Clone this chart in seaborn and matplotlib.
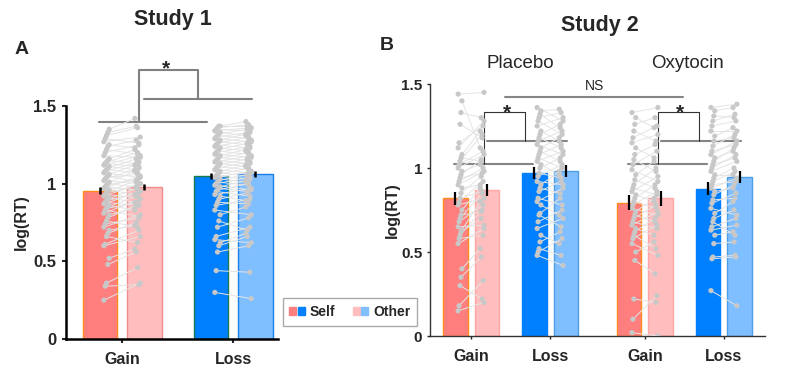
import numpy as np
import pandas as pd
import matplotlib.pyplot as plt
import seaborn as sns
from matplotlib.patches import Patch
from matplotlib.legend_handler import HandlerTuple

sns.set_style("ticks")
plt.rcParams['font.family'] = ['Liberation Sans', 'DejaVu Sans']

targets = ["Self", "Other"]
conds = ["Gain", "Loss"]

# bar means / sem, order: gain self, gain other, loss self, loss other
s1_mean = [0.955, 0.980, 1.050, 1.060]
s1_sem = [0.022, 0.020, 0.020, 0.020]
s2_groups = ["Placebo", "Oxytocin"]
s2_mean = [0.820, 0.867, 0.972, 0.984, 0.793, 0.820, 0.877, 0.948]
s2_sem = [0.040, 0.036, 0.036, 0.036, 0.045, 0.046, 0.040, 0.036]

# study 1 individual subjects
s1_gain_self = [0.25, 0.34, 0.36, 0.48, 0.52, 0.60, 0.61, 0.66, 0.68, 0.70,
                0.72, 0.74, 0.76, 0.78, 0.80, 0.81, 0.83, 0.84, 0.85, 0.86,
                0.87, 0.88, 0.89, 0.90, 0.91, 0.92, 0.93, 0.94, 0.95, 0.96,
                0.97, 0.98, 0.99, 1.00, 1.01, 1.02, 1.03, 1.04, 1.05, 1.06,
                1.07, 1.08, 1.09, 1.10, 1.11, 1.12, 1.13, 1.14, 1.15, 1.16,
                1.18, 1.20, 1.22, 1.24, 1.25, 1.27, 1.29, 1.31, 1.33, 1.35]
s1_gain_other = [0.36, 0.35, 0.46, 0.56, 0.58, 0.66, 0.70, 0.62, 0.75, 0.73,
                 0.80, 0.78, 0.72, 0.86, 0.84, 0.90, 0.79, 0.88, 0.92, 0.83,
                 0.95, 0.86, 0.94, 0.97, 0.88, 1.00, 0.91, 0.99, 1.02, 0.93,
                 1.05, 0.96, 1.03, 0.98, 1.08, 1.00, 1.10, 1.06, 1.01, 1.12,
                 1.04, 1.14, 1.07, 1.16, 1.09, 1.18, 1.11, 1.20, 1.13, 1.22,
                 1.17, 1.25, 1.19, 1.28, 1.23, 1.30, 1.26, 1.36, 1.37, 1.42]
s1_loss_self = [0.30, 0.44, 0.56, 0.60, 0.62, 0.64, 0.66, 0.72, 0.76, 0.80,
                0.83, 0.86, 0.88, 0.90, 0.92, 0.93, 0.95, 0.96, 0.97, 0.98,
                0.99, 1.00, 1.01, 1.02, 1.03, 1.04, 1.05, 1.06, 1.07, 1.08,
                1.09, 1.10, 1.11, 1.12, 1.13, 1.14, 1.15, 1.16, 1.17, 1.18,
                1.19, 1.20, 1.21, 1.22, 1.23, 1.24, 1.25, 1.26, 1.27, 1.28,
                1.29, 1.30, 1.31, 1.32, 1.33, 1.34, 1.35, 1.36, 1.37, 1.37]
s1_loss_other = [0.26, 0.43, 0.60, 0.66, 0.68, 0.62, 0.72, 0.78, 0.70, 0.85,
                 0.80, 0.90, 0.87, 0.94, 0.89, 0.97, 0.92, 1.00, 0.95, 1.02,
                 0.96, 1.04, 0.99, 1.06, 1.01, 1.08, 1.03, 1.10, 1.05, 1.12,
                 1.07, 1.14, 1.09, 1.16, 1.11, 1.18, 1.13, 1.20, 1.15, 1.22,
                 1.17, 1.24, 1.19, 1.26, 1.21, 1.28, 1.23, 1.30, 1.25, 1.32,
                 1.27, 1.33, 1.29, 1.35, 1.31, 1.36, 1.34, 1.38, 1.37, 1.40]

# study 2 individual subjects
pl_gain_self = [0.15, 0.18, 0.30, 0.35, 0.40, 0.55, 0.58, 0.60, 0.62, 0.63, 0.65, 0.68,
                0.70, 0.72, 0.75, 0.78, 0.80, 0.82, 0.85, 0.88, 0.90, 0.92, 0.94, 0.96,
                0.98, 1.00, 1.02, 1.04, 1.06, 1.08, 1.12, 1.15, 1.26, 1.33, 1.40, 1.44]
pl_gain_other = [0.20, 0.33, 0.22, 0.47, 0.52, 0.64, 0.60, 0.75, 0.70, 0.80, 0.66, 0.78,
                 0.85, 0.74, 0.88, 0.82, 0.92, 0.86, 0.95, 0.90, 0.98, 1.00, 0.97, 1.05,
                 1.02, 1.08, 1.10, 1.20, 1.04, 1.22, 1.28, 1.25, 1.18, 1.30, 1.12, 1.45]
pl_loss_self = [0.48, 0.50, 0.52, 0.56, 0.60, 0.64, 0.68, 0.72, 0.73, 0.78, 0.80, 0.82,
                0.86, 0.88, 0.90, 0.92, 0.95, 0.97, 1.00, 1.02, 1.04, 1.06, 1.08, 1.10,
                1.12, 1.14, 1.16, 1.18, 1.20, 1.22, 1.25, 1.28, 1.30, 1.32, 1.34, 1.36]
pl_loss_other = [0.42, 0.58, 0.48, 0.62, 0.55, 0.70, 0.75, 0.65, 0.82, 0.72, 0.88, 0.78,
                 0.92, 0.85, 0.98, 0.90, 1.02, 0.94, 1.06, 0.96, 1.10, 1.00, 1.14, 1.04,
                 1.18, 1.08, 1.22, 1.12, 1.26, 1.16, 1.30, 1.20, 1.33, 1.24, 1.35, 1.28]
ox_gain_self = [0.02, 0.10, 0.22, 0.45, 0.50, 0.55, 0.58, 0.60, 0.62, 0.64, 0.66, 0.68,
                0.70, 0.72, 0.74, 0.76, 0.78, 0.80, 0.82, 0.84, 0.86, 0.88, 0.90, 0.93,
                0.96, 0.99, 1.02, 1.05, 1.08, 1.12, 1.15, 1.18, 1.22, 1.26, 1.30, 1.33]
ox_gain_other = [0.00, 0.24, 0.20, 0.37, 0.56, 0.48, 0.66, 0.52, 0.70, 0.60, 0.74, 0.64,
                 0.78, 0.68, 0.82, 0.72, 0.86, 0.76, 0.90, 0.80, 0.95, 0.84, 1.00, 0.88,
                 1.04, 0.92, 1.10, 0.98, 1.14, 1.06, 1.20, 1.25, 1.16, 1.30, 1.24, 1.36]
ox_loss_self = [0.27, 0.46, 0.47, 0.55, 0.60, 0.63, 0.65, 0.68, 0.70, 0.73, 0.76, 0.79,
                0.81, 0.84, 0.86, 0.88, 0.90, 0.92, 0.94, 0.96, 0.98, 1.00, 1.02, 1.04,
                1.06, 1.08, 1.10, 1.13, 1.16, 1.19, 1.22, 1.25, 1.28, 1.31, 1.34, 1.36]
ox_loss_other = [0.18, 0.47, 0.48, 0.56, 0.62, 0.66, 0.70, 0.60, 0.75, 0.80, 0.72, 0.85,
                 0.82, 0.90, 0.88, 0.94, 0.92, 0.98, 1.00, 0.96, 1.04, 1.08, 1.06, 1.12,
                 1.10, 1.16, 1.14, 1.20, 1.18, 1.24, 1.22, 1.28, 1.32, 1.30, 1.36, 1.38]

faces = ["#ff7f7f", "#ffbdbd", "#0080ff", "#80bfff"]
edges1 = ["#ff8c1a", "#f08c8c", "#1a7a4a", "#1a80e6"]
edges2 = ["#ff8c1a", "#ffa6a6", "#0080ff", "#4d9ee6"]


def draw_bars(ax, xpos, means, sems, edges, lw):
    df = pd.DataFrame({"x": np.repeat(xpos, 2), "target": targets * len(xpos), "rt": means})
    sns.barplot(data=df, x="x", y="rt", hue="target", hue_order=targets, native_scale=True,
                width=0.8, gap=0.22, errorbar=None, legend=False, ax=ax)
    bars = sorted(ax.patches, key=lambda p: p.get_x())
    for i, p in enumerate(bars):
        p.set_facecolor(faces[i % 4])
        p.set_edgecolor(edges[i % 4])
        p.set_linewidth(lw)
    cx = [p.get_x() + p.get_width() / 2 for p in bars]
    return cx, means, sems


def draw_subjects(ax, base, ys, yo):
    n = len(ys)
    jit = ((np.arange(n) % 5) - 2) * 0.012
    xs = base - 0.14 + jit
    xo = base + 0.14 - jit
    for i in range(n):
        ax.plot([xs[i], xo[i]], [ys[i], yo[i]], color="#e4e4e4", lw=0.7, zorder=3)
    sns.scatterplot(x=np.concatenate([xs, xo]), y=np.concatenate([ys, yo]), color="#c8c8c8",
                    s=14, edgecolor="none", zorder=4, ax=ax)


def draw_err(ax, cx, means, sems, lw):
    ax.errorbar(cx, means, yerr=sems, fmt="none", ecolor="black", elinewidth=lw, capsize=0, zorder=6)


fig = plt.figure(figsize=(8.06, 3.78), dpi=100)

# ---- Study 1
axA = fig.add_axes([66 / 806, 1 - 339 / 378, 212 / 806, 233 / 378])
pos1 = [0, 1]
cx, m, e = draw_bars(axA, pos1, s1_mean, s1_sem, edges1, 1.0)
draw_subjects(axA, 0, s1_gain_self, s1_gain_other)
draw_subjects(axA, 1, s1_loss_self, s1_loss_other)
draw_err(axA, cx, m, e, 1.8)
axA.set_xlim(-0.505, 1.405)
axA.set_ylim(0, 1.5)
axA.set_xticks(pos1)
axA.set_xticklabels(conds)
axA.set_yticks([0, 0.5, 1, 1.5])
axA.set_yticklabels(["0", "0.5", "1", "1.5"])
axA.set_xlabel("")
axA.set_ylabel("log(RT)", fontsize=11.5, fontweight="bold", labelpad=3)
for s in ["top", "right"]:
    axA.spines[s].set_visible(False)
for s in ["left", "bottom"]:
    axA.spines[s].set_linewidth(1.8)
    axA.spines[s].set_color("black")
axA.tick_params(direction="out", length=3, width=1.5, pad=4, labelsize=12)
axA.tick_params(axis="x", labelsize=11.5, pad=6)
for t in axA.get_xticklabels() + axA.get_yticklabels():
    t.set_fontweight("bold")

bk = dict(color="#808080", lw=1.5, clip_on=False, zorder=2)
axA.plot([-0.207, 0.766], [1.40, 1.40], **bk)
axA.plot([0.198, 1.171], [1.545, 1.545], **bk)
axA.plot([0.153, 0.153, 0.685, 0.685], [1.40, 1.73, 1.73, 1.545], **bk)
axA.text(0.40, 1.675, "*", ha="center", va="bottom", fontsize=15, fontweight="bold", clip_on=False)

# ---- Study 2
axB = fig.add_axes([430 / 806, 1 - 336 / 378, 335 / 806, 252 / 378])
pos2 = [0, 1, 2.2, 3.2]
cx, m, e = draw_bars(axB, pos2, s2_mean, s2_sem, edges2, 1.0)
draw_subjects(axB, pos2[0], pl_gain_self, pl_gain_other)
draw_subjects(axB, pos2[1], pl_loss_self, pl_loss_other)
draw_subjects(axB, pos2[2], ox_gain_self, ox_gain_other)
draw_subjects(axB, pos2[3], ox_loss_self, ox_loss_other)
draw_err(axB, cx, m, e, 1.6)
axB.set_xlim(-0.52, 3.72)
axB.set_ylim(0, 1.5)
axB.set_xticks(pos2)
axB.set_xticklabels(conds * 2)
axB.set_yticks([0, 0.5, 1, 1.5])
axB.set_yticklabels(["0", "0.5", "1", "1.5"])
axB.set_xlabel("")
axB.set_ylabel("log(RT)", fontsize=11.5, fontweight="bold", labelpad=1)
for s in ["top", "right"]:
    axB.spines[s].set_visible(False)
for s in ["left", "bottom"]:
    axB.spines[s].set_linewidth(1.0)
    axB.spines[s].set_color("#333333")
axB.tick_params(direction="out", length=2.5, width=1.0, pad=3, labelsize=11)
axB.tick_params(axis="x", labelsize=11.5, pad=7)
for t in axB.get_xticklabels() + axB.get_yticklabels():
    t.set_fontweight("bold")

bk2 = dict(color="#858585", lw=1.5, clip_on=False, zorder=2)
br2 = dict(color="#333333", lw=0.8, clip_on=False, zorder=2)
axB.plot([0.43, 2.684], [1.424, 1.424], **bk2)
axB.text(1.557, 1.488, "NS", ha="center", va="center", fontsize=10)
for g in [pos2[0], pos2[2]]:
    axB.plot([g - 0.215, g + 0.785], [1.024, 1.024], **bk2)
    axB.plot([g + 0.203, g + 1.215], [1.163, 1.163], **bk2)
    axB.plot([g + 0.165, g + 0.165, g + 0.684, g + 0.684], [1.024, 1.333, 1.333, 1.163], **br2)
    axB.text(g + 0.45, 1.27, "*", ha="center", va="bottom", fontsize=15, fontweight="bold")

# ---- titles and labels
fig.text(173 / 806, 1 - 20 / 378, "Study 1", ha="center", va="center", fontsize=15.5, fontweight="bold")
fig.text(600 / 806, 1 - 25 / 378, "Study 2", ha="center", va="center", fontsize=15.5, fontweight="bold")
fig.text(22 / 806, 1 - 50 / 378, "A", ha="center", va="center", fontsize=14, fontweight="bold")
fig.text(387 / 806, 1 - 45 / 378, "B", ha="center", va="center", fontsize=14, fontweight="bold")
fig.text(520 / 806, 1 - 63 / 378, s2_groups[0], ha="center", va="center", fontsize=13.5)
fig.text(687 / 806, 1 - 63 / 378, s2_groups[1], ha="center", va="center", fontsize=13.5)

handles = [(Patch(color=faces[0]), Patch(color=faces[2])),
           (Patch(color=faces[1]), Patch(color=faces[3]))]
leg = fig.legend(handles, targets, handler_map={tuple: HandlerTuple(ndivide=None, pad=0.1)},
                 loc="center", bbox_to_anchor=(350 / 806, 1 - 312 / 378), ncol=2,
                 fancybox=False, edgecolor="#aaaaaa", framealpha=1,
                 prop={"weight": "bold", "size": 10}, handlelength=1.1, handleheight=0.45,
                 handletextpad=0.35, columnspacing=1.3, borderpad=0.5)
leg.get_frame().set_linewidth(1.0)

fig.savefig("out.png", dpi=100)
